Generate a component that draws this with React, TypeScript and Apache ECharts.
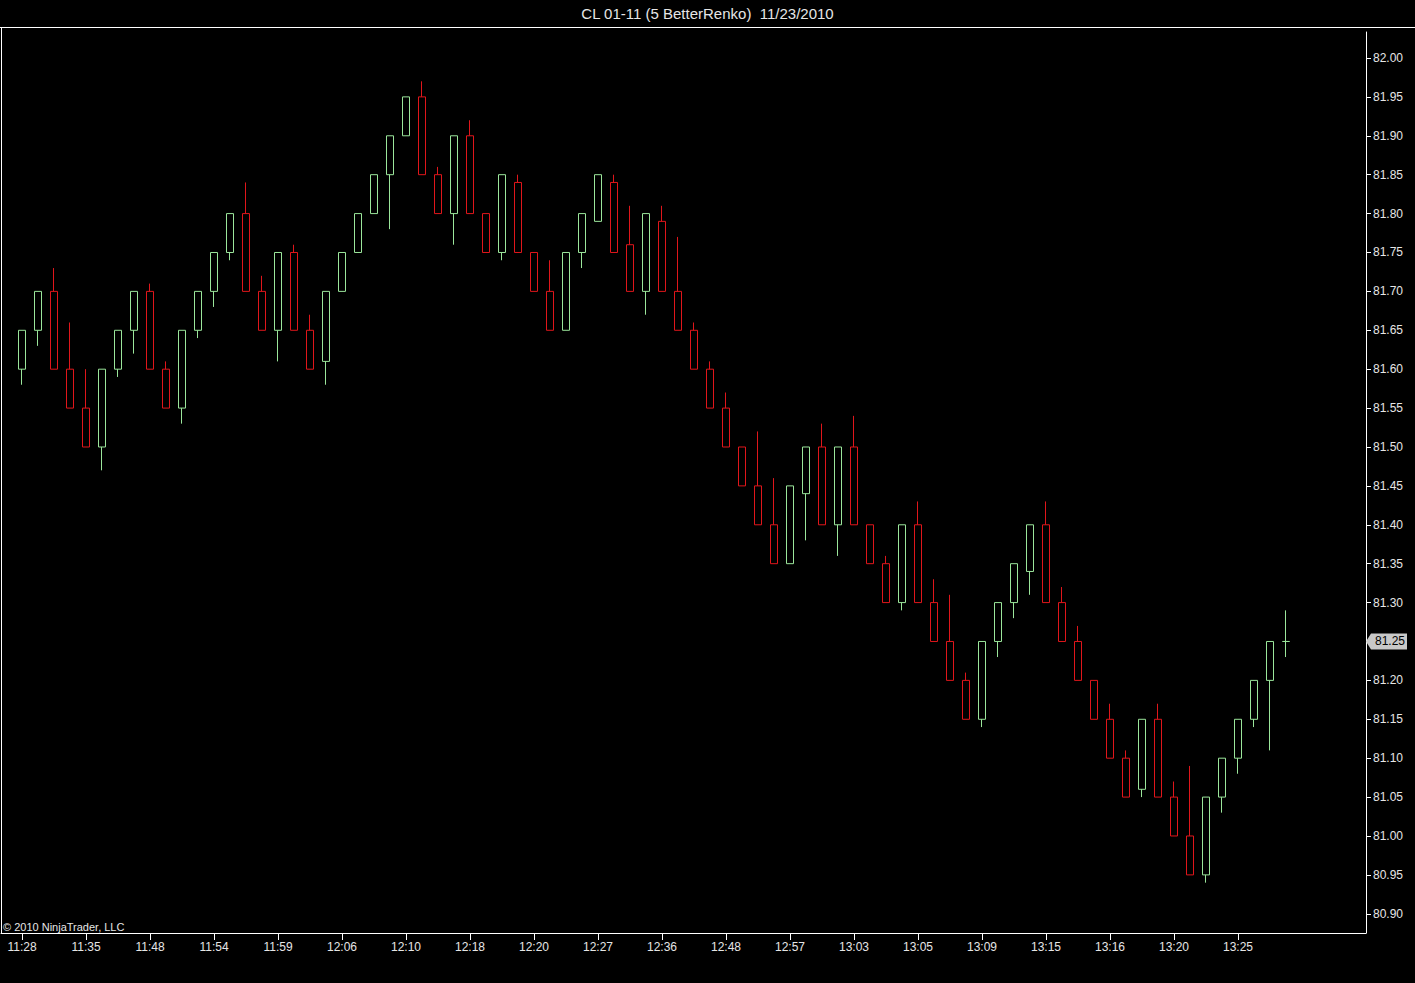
import React, { useEffect, useRef } from "react";
import * as echarts from "echarts";

const TITLE = "CL 01-11 (5 BetterRenko)  11/23/2010";
const COPYRIGHT = "© 2010 NinjaTrader, LLC";

const opens = [
  81.60, 81.65, 81.70, 81.60, 81.55, 81.50, 81.60, 81.65, 81.70, 81.60,
  81.55, 81.65, 81.70, 81.75, 81.80, 81.70, 81.65, 81.75, 81.65, 81.61,
  81.70, 81.75, 81.80, 81.85, 81.90, 81.95, 81.85, 81.80, 81.90, 81.80,
  81.75, 81.84, 81.75, 81.70, 81.65, 81.75, 81.79, 81.84, 81.76, 81.70,
  81.79, 81.70, 81.65, 81.60, 81.55, 81.50, 81.45, 81.40, 81.35, 81.44,
  81.50, 81.40, 81.50, 81.40, 81.35, 81.30, 81.40, 81.30, 81.25, 81.20,
  81.15, 81.25, 81.30, 81.34, 81.40, 81.30, 81.25, 81.20, 81.15, 81.10,
  81.06, 81.15, 81.05, 81.00, 80.95, 81.05, 81.10, 81.15, 81.20, 81.25,
];

const closes = [
  81.65, 81.70, 81.60, 81.55, 81.50, 81.60, 81.65, 81.70, 81.60, 81.55,
  81.65, 81.70, 81.75, 81.80, 81.70, 81.65, 81.75, 81.65, 81.60, 81.70,
  81.75, 81.80, 81.85, 81.90, 81.95, 81.85, 81.80, 81.90, 81.80, 81.75,
  81.85, 81.75, 81.70, 81.65, 81.75, 81.80, 81.85, 81.75, 81.70, 81.80,
  81.70, 81.65, 81.60, 81.55, 81.50, 81.45, 81.40, 81.35, 81.45, 81.50,
  81.40, 81.50, 81.40, 81.35, 81.30, 81.40, 81.30, 81.25, 81.20, 81.15,
  81.25, 81.30, 81.35, 81.40, 81.30, 81.25, 81.20, 81.15, 81.10, 81.05,
  81.15, 81.05, 81.00, 80.95, 81.05, 81.10, 81.15, 81.20, 81.25, 81.25,
];

const lows = [
  81.58, 81.63, 81.60, 81.55, 81.50, 81.47, 81.59, 81.62, 81.60, 81.55,
  81.53, 81.64, 81.68, 81.74, 81.70, 81.65, 81.61, 81.65, 81.60, 81.58,
  81.70, 81.75, 81.80, 81.78, 81.90, 81.85, 81.80, 81.76, 81.80, 81.75,
  81.74, 81.75, 81.70, 81.65, 81.65, 81.73, 81.79, 81.75, 81.70, 81.67,
  81.70, 81.65, 81.60, 81.55, 81.50, 81.45, 81.40, 81.35, 81.35, 81.38,
  81.40, 81.36, 81.40, 81.35, 81.30, 81.29, 81.30, 81.25, 81.20, 81.15,
  81.14, 81.23, 81.28, 81.31, 81.30, 81.25, 81.20, 81.15, 81.10, 81.05,
  81.05, 81.05, 81.00, 80.95, 80.94, 81.03, 81.08, 81.14, 81.11, 81.23,
];

const highs = [
  81.65, 81.70, 81.73, 81.66, 81.60, 81.60, 81.65, 81.70, 81.71, 81.61,
  81.65, 81.70, 81.75, 81.80, 81.84, 81.72, 81.75, 81.76, 81.67, 81.70,
  81.75, 81.80, 81.85, 81.90, 81.95, 81.97, 81.86, 81.90, 81.92, 81.80,
  81.85, 81.85, 81.75, 81.74, 81.75, 81.80, 81.85, 81.85, 81.81, 81.80,
  81.81, 81.77, 81.66, 81.61, 81.57, 81.50, 81.52, 81.46, 81.45, 81.50,
  81.53, 81.50, 81.54, 81.40, 81.36, 81.40, 81.43, 81.33, 81.31, 81.21,
  81.25, 81.30, 81.35, 81.40, 81.43, 81.32, 81.27, 81.20, 81.17, 81.11,
  81.15, 81.17, 81.07, 81.09, 81.05, 81.10, 81.15, 81.20, 81.25, 81.29,
];

const timeLabels = [
  "11:28", "11:35", "11:48", "11:54", "11:59", "12:06", "12:10", "12:18", "12:20", "12:27",
  "12:36", "12:48", "12:57", "13:03", "13:05", "13:09", "13:15", "13:16", "13:20", "13:25",
];
const LABEL_EVERY = 4;

const priceTicks = [
  80.90, 80.95, 81.00, 81.05, 81.10, 81.15, 81.20, 81.25, 81.30, 81.35, 81.40, 81.45,
  81.50, 81.55, 81.60, 81.65, 81.70, 81.75, 81.80, 81.85, 81.90, 81.95, 82.00,
];

const X_MIN = -1.3125;
const X_MAX = 84;
const Y_MIN = 80.8753;
const Y_MAX = 82.0334;

const FONT = "'Liberation Sans', Arial, Helvetica, sans-serif";
const TEXT = "#e6e6e6";
const FRAME = "#ffffff";
const UP = "#9be69b";
const DOWN = "#e0161b";

export default function App() {
  const ref = useRef<HTMLDivElement>(null);

  useEffect(() => {
    document.body.style.margin = "0";
    document.body.style.background = "#000";
    const el = ref.current as HTMLDivElement;
    const chart = echarts.init(el, null, { renderer: "svg" });

    const data = opens.map((o, i) => [i, o, closes[i], lows[i], highs[i]]);
    const lastClose = closes[closes.length - 1];
    const xTickValues = timeLabels.map((_, k) => k * LABEL_EVERY);
    const yLabelValues = priceTicks.filter((v) => Math.abs(v - lastClose) > 1e-9);

    chart.setOption({
      animation: false,
      backgroundColor: "#000000",
      title: {
        text: TITLE,
        left: "center",
        top: 0,
        padding: [6, 9, 5, 0],
        textStyle: { color: TEXT, fontSize: 15, fontWeight: "normal", fontFamily: FONT },
      },
      grid: { left: 1, right: 49, top: 32, bottom: 50, outerBoundsMode: "none", containLabel: false },
      xAxis: {
        type: "value",
        min: X_MIN,
        max: X_MAX,
        position: "bottom",
        splitLine: { show: false },
        axisLine: { show: true, onZero: false, lineStyle: { color: FRAME, width: 1 } },
        axisTick: { show: true, length: 7, customValues: xTickValues, lineStyle: { color: FRAME } },
        axisLabel: {
          show: true,
          customValues: xTickValues,
          margin: 8,
          color: TEXT,
          fontSize: 12,
          fontFamily: FONT,
          formatter: (v: number) => timeLabels[Math.round(v / LABEL_EVERY)] ?? "",
        },
      },
      yAxis: {
        type: "value",
        position: "right",
        min: Y_MIN,
        max: Y_MAX,
        scale: true,
        splitLine: { show: false },
        axisLine: { show: true, onZero: false, lineStyle: { color: FRAME, width: 1 } },
        axisTick: { show: true, length: 5, customValues: priceTicks, lineStyle: { color: FRAME } },
        axisLabel: {
          show: true,
          customValues: yLabelValues,
          margin: 7,
          color: TEXT,
          fontSize: 12,
          fontFamily: FONT,
          formatter: (v: number) => v.toFixed(2),
        },
      },
      series: [
        {
          type: "candlestick",
          name: "CL 01-11",
          data,
          encode: { x: 0, y: [1, 2, 3, 4] },
          barWidth: 8,
          clip: true,
          itemStyle: {
            color: "#000000",
            color0: "#000000",
            borderColor: UP,
            borderColor0: DOWN,
            borderColorDoji: UP,
            borderWidth: 1,
          },
        },
      ],
    });

    const yPix = chart.convertToPixel({ yAxisIndex: 0 }, lastClose) as number;
    const xPix = chart.convertToPixel({ xAxisIndex: 0 }, X_MAX) as number;

    chart.setOption({
      graphic: {
        elements: [
          {
            id: "topLine",
            type: "line",
            shape: { x1: 0, y1: 27.5, x2: 1415, y2: 27.5 },
            style: { stroke: FRAME, lineWidth: 1 },
            silent: true,
          },
          {
            id: "leftLine",
            type: "line",
            shape: { x1: 1.5, y1: 27.5, x2: 1.5, y2: 933 },
            style: { stroke: FRAME, lineWidth: 1 },
            silent: true,
          },
          {
            id: "copyright",
            type: "text",
            x: 3,
            y: 927,
            style: {
              text: COPYRIGHT,
              fill: TEXT,
              fontSize: 11,
              fontFamily: FONT,
              verticalAlign: "middle",
            },
            silent: true,
          },
          {
            id: "lastMarker",
            type: "polygon",
            z: 100,
            shape: {
              points: [
                [xPix, yPix],
                [xPix + 5, yPix - 8],
                [xPix + 41, yPix - 8],
                [xPix + 41, yPix + 8],
                [xPix + 5, yPix + 8],
              ],
            },
            style: { fill: "#c8c8c8", stroke: "#c8c8c8", lineWidth: 0 },
            silent: true,
          },
          {
            id: "lastText",
            type: "text",
            z: 101,
            x: xPix + 24,
            y: yPix,
            style: {
              text: lastClose.toFixed(2),
              fill: "#000000",
              fontSize: 12,
              fontFamily: FONT,
              align: "center",
              verticalAlign: "middle",
            },
            silent: true,
          },
        ],
      },
    });

    return () => chart.dispose();
  }, []);

  return <div ref={ref} style={{ width: 1415, height: 983, background: "#000" }} />;
}
